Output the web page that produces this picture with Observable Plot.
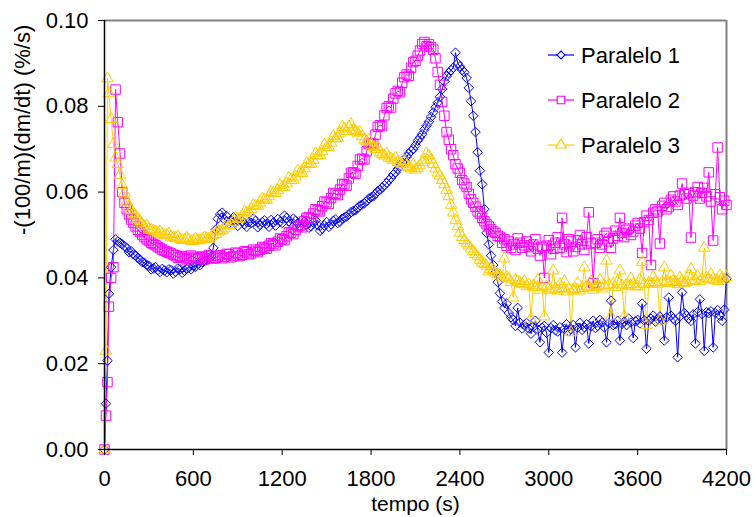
<!DOCTYPE html>
<html>
<head>
<meta charset="utf-8">
<script src="https://cdn.jsdelivr.net/npm/d3@7"></script>
<script src="https://cdn.jsdelivr.net/npm/@observablehq/plot@0.6"></script>
<style>
  html, body { margin: 0; padding: 0; background: #ffffff; }
  #chart { width: 754px; height: 517px; }
</style>
</head>
<body>
<div id="chart"></div>
<script>
const seriesNames = ["Paralelo 1", "Paralelo 2", "Paralelo 3"];
const seriesColors = ["#0000ff", "#ff00ff", "#ffcc00"];
const xTicks = [0, 600, 1200, 1800, 2400, 3000, 3600, 4200];
const yTicks = [0, 0.02, 0.04, 0.06, 0.08, 0.10];
const xLabel = "tempo (s)";
const yLabel = "-(100/m)(dm/dt) (%/s)";

const tempo = [0,10,20,30,45,60,75,90,105,120,
135,150,165,180,195,210,225,240,255,270,285,300,315,330,345,360,375,390,405,420,
435,450,465,480,495,510,525,540,555,570,585,600,615,630,645,660,675,690,705,720,
735,750,765,780,795,810,825,840,855,870,885,900,915,930,945,960,975,990,1005,1020,
1035,1050,1065,1080,1095,1110,1125,1140,1155,1170,1185,1200,1215,1230,1245,1260,1275,1290,1305,1320,
1335,1350,1365,1380,1395,1410,1425,1440,1455,1470,1485,1500,1515,1530,1545,1560,1575,1590,1605,1620,
1635,1650,1665,1680,1695,1710,1725,1740,1755,1770,1785,1800,1815,1830,1845,1860,1875,1890,1905,1920,
1935,1950,1965,1980,1995,2010,2025,2040,2055,2070,2085,2100,2115,2130,2145,2160,2175,2190,2205,2220,
2235,2250,2265,2280,2295,2310,2325,2340,2355,2370,2385,2400,2415,2430,2445,2460,2475,2490,2505,2520,
2535,2550,2565,2580,2595,2610,2625,2640,2655,2670,2685,2700,2715,2730,2745,2760,2775,2790,2805,2820,
2835,2850,2865,2880,2895,2910,2925,2940,2955,2970,2985,3000,3015,3030,3045,3060,3075,3090,3105,3120,
3135,3150,3165,3180,3195,3210,3225,3240,3255,3270,3285,3300,3315,3330,3345,3360,3375,3390,3405,3420,
3435,3450,3465,3480,3495,3510,3525,3540,3555,3570,3585,3600,3615,3630,3645,3660,3675,3690,3705,3720,
3735,3750,3765,3780,3795,3810,3825,3840,3855,3870,3885,3900,3915,3930,3945,3960,3975,3990,4005,4020,
4035,4050,4065,4080,4095,4110,4125,4140,4155,4170,4185,4200];

const paralelo1 = [0,0.0107,0.0207,0.0363,0.0425,0.0465,0.0490,0.0485,0.0482,0.0478,
0.0474,0.0470,0.0460,0.0462,0.0455,0.0452,0.0446,0.0443,0.0437,0.0435,0.0430,0.0428,0.0420,0.0422,0.0425,0.0418,0.0414,0.0421,0.0417,0.0413,
0.0420,0.0418,0.0410,0.0414,0.0422,0.0420,0.0412,0.0417,0.0421,0.0424,0.0420,0.0428,0.0426,0.0432,0.0430,0.0437,0.0440,0.0442,0.0446,0.0450,
0.0470,0.0512,0.0538,0.0548,0.0552,0.0536,0.0544,0.0527,0.0534,0.0541,0.0530,0.0521,0.0538,0.0532,0.0525,0.0519,0.0530,0.0528,0.0538,0.0533,
0.0518,0.0524,0.0530,0.0534,0.0526,0.0519,0.0535,0.0529,0.0522,0.0537,0.0531,0.0528,0.0545,0.0540,0.0532,0.0526,0.0538,0.0533,0.0527,0.0521,
0.0536,0.0531,0.0524,0.0517,0.0520,0.0529,0.0534,0.0523,0.0510,0.0515,0.0522,0.0530,0.0519,0.0525,0.0533,0.0536,0.0528,0.0531,0.0538,0.0541,
0.0543,0.0548,0.0553,0.0556,0.0558,0.0563,0.0569,0.0571,0.0574,0.0579,0.0585,0.0588,0.0590,0.0596,0.0602,0.0605,0.0611,0.0616,0.0621,0.0628,
0.0633,0.0641,0.0646,0.0654,0.0662,0.0668,0.0674,0.0682,0.0690,0.0696,0.0700,0.0709,0.0720,0.0727,0.0735,0.0746,0.0755,0.0764,0.0775,0.0786,
0.0798,0.0808,0.0822,0.0840,0.0858,0.0870,0.0878,0.0884,0.0890,0.0925,0.0900,0.0893,0.0885,0.0879,0.0866,0.0843,0.0812,0.0778,0.0740,0.0693,
0.0650,0.0618,0.0560,0.0505,0.0478,0.0452,0.0430,0.0413,0.0390,0.0364,0.0345,0.0330,0.0340,0.0318,0.0308,0.0302,0.0288,0.0330,0.0296,0.0282,
0.0290,0.0295,0.0282,0.0270,0.0286,0.0300,0.0280,0.0250,0.0284,0.0288,0.0272,0.0226,0.0283,0.0290,0.0278,0.0275,0.0285,0.0226,0.0281,0.0292,
0.0276,0.0280,0.0290,0.0238,0.0284,0.0295,0.0279,0.0285,0.0292,0.0247,0.0287,0.0300,0.0283,0.0288,0.0302,0.0296,0.0285,0.0250,0.0294,0.0347,
0.0290,0.0292,0.0300,0.0254,0.0293,0.0298,0.0290,0.0305,0.0296,0.0260,0.0299,0.0302,0.0294,0.0340,0.0301,0.0235,0.0300,0.0305,0.0312,0.0298,
0.0304,0.0310,0.0302,0.0254,0.0308,0.0354,0.0312,0.0305,0.0300,0.0215,0.0310,0.0366,0.0318,0.0312,0.0305,0.0300,0.0315,0.0247,0.0320,0.0350,
0.0316,0.0230,0.0320,0.0318,0.0322,0.0238,0.0318,0.0325,0.0312,0.0300,0.0326,0.0398];

const paralelo2 = [0,0.0079,0.0157,0.0333,0.0400,0.0425,0.0839,0.0763,0.0690,0.0600,
0.0575,0.0560,0.0548,0.0536,0.0528,0.0520,0.0512,0.0507,0.0500,0.0495,0.0490,0.0487,0.0482,0.0479,0.0476,0.0472,0.0469,0.0466,0.0463,0.0461,
0.0459,0.0457,0.0454,0.0452,0.0447,0.0449,0.0451,0.0447,0.0443,0.0445,0.0452,0.0449,0.0446,0.0444,0.0448,0.0450,0.0443,0.0446,0.0453,0.0451,
0.0445,0.0447,0.0450,0.0453,0.0446,0.0449,0.0456,0.0455,0.0448,0.0451,0.0459,0.0457,0.0451,0.0454,0.0462,0.0460,0.0455,0.0457,0.0466,0.0463,
0.0460,0.0466,0.0472,0.0470,0.0468,0.0475,0.0481,0.0479,0.0476,0.0484,0.0492,0.0490,0.0488,0.0497,0.0506,0.0505,0.0502,0.0512,0.0520,0.0522,
0.0518,0.0532,0.0540,0.0541,0.0538,0.0550,0.0560,0.0558,0.0555,0.0567,0.0578,0.0576,0.0573,0.0586,0.0598,0.0596,0.0593,0.0606,0.0619,0.0618,
0.0615,0.0632,0.0645,0.0646,0.0643,0.0661,0.0676,0.0678,0.0676,0.0695,0.0712,0.0714,0.0712,0.0734,0.0752,0.0756,0.0754,0.0779,0.0796,0.0800,
0.0797,0.0818,0.0830,0.0836,0.0833,0.0855,0.0868,0.0874,0.0871,0.0890,0.0903,0.0906,0.0918,0.0930,0.0945,0.0950,0.0940,0.0945,0.0938,0.0932,
0.0912,0.0880,0.0850,0.0810,0.0778,0.0740,0.0722,0.0700,0.0686,0.0665,0.0655,0.0645,0.0628,0.0620,0.0612,0.0596,0.0583,0.0575,0.0566,0.0555,
0.0550,0.0540,0.0532,0.0525,0.0520,0.0514,0.0508,0.0505,0.0498,0.0496,0.0482,0.0490,0.0475,0.0485,0.0470,0.0478,0.0465,0.0492,0.0482,0.0470,
0.0476,0.0485,0.0472,0.0462,0.0478,0.0490,0.0468,0.0452,0.0472,0.0400,0.0475,0.0488,0.0455,0.0468,0.0482,0.0495,0.0470,0.0540,0.0478,0.0460,
0.0490,0.0485,0.0462,0.0472,0.0488,0.0500,0.0478,0.0465,0.0495,0.0553,0.0480,0.0388,0.0482,0.0490,0.0470,0.0478,0.0498,0.0505,0.0485,0.0470,
0.0492,0.0510,0.0498,0.0540,0.0505,0.0495,0.0512,0.0515,0.0500,0.0508,0.0522,0.0528,0.0515,0.0458,0.0530,0.0545,0.0535,0.0430,0.0552,0.0560,
0.0555,0.0480,0.0568,0.0575,0.0560,0.0565,0.0582,0.0590,0.0578,0.0570,0.0592,0.0620,0.0595,0.0585,0.0598,0.0494,0.0592,0.0600,0.0612,0.0585,
0.0598,0.0610,0.0590,0.0646,0.0578,0.0487,0.0595,0.0704,0.0588,0.0560,0.0580,0.0570];

const paralelo3 = [0,0.0230,0.0865,0.0830,0.0770,0.0712,0.0680,0.0665,0.0640,0.0615,
0.0598,0.0578,0.0566,0.0558,0.0550,0.0545,0.0538,0.0532,0.0526,0.0520,0.0522,0.0514,0.0512,0.0510,0.0508,0.0505,0.0508,0.0502,0.0499,0.0500,
0.0503,0.0496,0.0494,0.0493,0.0497,0.0490,0.0488,0.0488,0.0493,0.0489,0.0485,0.0486,0.0491,0.0488,0.0487,0.0490,0.0494,0.0492,0.0491,0.0496,
0.0500,0.0502,0.0510,0.0508,0.0511,0.0515,0.0524,0.0522,0.0524,0.0530,0.0540,0.0537,0.0538,0.0545,0.0555,0.0552,0.0553,0.0560,0.0570,0.0568,
0.0568,0.0575,0.0585,0.0582,0.0582,0.0590,0.0600,0.0598,0.0597,0.0604,0.0616,0.0612,0.0612,0.0620,0.0633,0.0628,0.0628,0.0636,0.0650,0.0645,
0.0644,0.0655,0.0668,0.0665,0.0666,0.0675,0.0690,0.0685,0.0686,0.0695,0.0710,0.0705,0.0705,0.0715,0.0730,0.0725,0.0726,0.0738,0.0752,0.0748,
0.0742,0.0752,0.0758,0.0745,0.0742,0.0738,0.0740,0.0730,0.0722,0.0718,0.0722,0.0710,0.0704,0.0700,0.0705,0.0692,0.0688,0.0685,0.0690,0.0680,
0.0678,0.0675,0.0680,0.0670,0.0668,0.0665,0.0672,0.0660,0.0658,0.0655,0.0664,0.0652,0.0656,0.0662,0.0670,0.0675,0.0690,0.0685,0.0676,0.0665,
0.0655,0.0645,0.0638,0.0628,0.0618,0.0605,0.0590,0.0570,0.0552,0.0535,0.0520,0.0505,0.0495,0.0488,0.0480,0.0475,0.0468,0.0462,0.0455,0.0450,
0.0442,0.0435,0.0432,0.0428,0.0415,0.0420,0.0418,0.0412,0.0408,0.0405,0.0400,0.0445,0.0402,0.0398,0.0390,0.0354,0.0395,0.0392,0.0388,0.0385,
0.0392,0.0380,0.0384,0.0305,0.0382,0.0378,0.0395,0.0372,0.0378,0.0310,0.0380,0.0375,0.0372,0.0417,0.0374,0.0370,0.0385,0.0376,0.0392,0.0368,
0.0375,0.0273,0.0372,0.0374,0.0388,0.0370,0.0376,0.0424,0.0380,0.0378,0.0392,0.0372,0.0378,0.0380,0.0395,0.0375,0.0382,0.0440,0.0384,0.0310,
0.0386,0.0378,0.0392,0.0417,0.0382,0.0310,0.0385,0.0382,0.0398,0.0385,0.0380,0.0380,0.0395,0.0437,0.0386,0.0290,0.0388,0.0386,0.0402,0.0390,
0.0386,0.0300,0.0390,0.0424,0.0392,0.0388,0.0405,0.0392,0.0390,0.0385,0.0400,0.0394,0.0388,0.0390,0.0405,0.0420,0.0392,0.0395,0.0404,0.0392,
0.0398,0.0470,0.0400,0.0396,0.0408,0.0398,0.0394,0.0392,0.0405,0.0400,0.0396,0.0402];

const seriesValues = [paralelo1, paralelo2, paralelo3];
const seriesSymbols = ["diamond2", "square2", "triangle2"];
const seriesRadius = [4.3, 6, 5.5];

const rows = [];
seriesNames.forEach((name, i) => {
  tempo.forEach((t, j) => rows.push({tempo: t, valor: seriesValues[i][j], serie: name}));
});

const dotMarks = seriesNames.map((name, i) =>
  Plot.dot(rows.filter(d => d.serie === name), {
    x: "tempo", y: "valor", symbol: () => seriesSymbols[i], r: seriesRadius[i],
    stroke: seriesColors[i], fill: "none", strokeWidth: 1
  })
);

const chart = Plot.plot({
  width: 754,
  height: 517,
  marginLeft: 104,
  marginRight: 28,
  marginTop: 20,
  marginBottom: 68,
  style: {fontFamily: "'Liberation Sans', Arial, sans-serif", fontSize: "22px", background: "#ffffff", color: "#000"},
  x: {domain: [0, 4200]},
  y: {domain: [0, 0.10]},
  color: {domain: seriesNames, range: seriesColors},
  symbol: {domain: seriesSymbols, range: seriesSymbols},
  marks: [
    Plot.ruleY([0.10], {stroke: "#808080", strokeWidth: 2}),
    Plot.ruleX([4200], {stroke: "#808080", strokeWidth: 2}),
    Plot.line(rows, {x: "tempo", y: "valor", z: "serie", stroke: "serie", strokeWidth: 1}),
    ...dotMarks,
    Plot.ruleX([0], {stroke: "#000", strokeWidth: 1.5}),
    Plot.ruleY([0], {stroke: "#000", strokeWidth: 1.5}),
    Plot.axisY({ticks: yTicks, tickFormat: d3.format(".2f"), tickSize: 6, tickPadding: 10, fontSize: 22, label: null}),
    Plot.axisX({ticks: xTicks, tickFormat: d3.format("d"), tickSize: 6, tickPadding: 15, fontSize: 22, label: null}),
    Plot.text([xLabel], {frameAnchor: "bottom", dy: 55, fontSize: 21, lineAnchor: "middle"}),
    Plot.text([yLabel], {frameAnchor: "left", dx: -82, rotate: -90, fontSize: 22, lineAnchor: "middle"})
  ]
});

document.getElementById("chart").appendChild(chart);

// Legend inside the plot area (top right)
const svg = d3.select(chart);
const legend = svg.append("g").attr("class", "legend").attr("text-anchor", "start");
const symbolTypes = {diamond2: d3.symbolDiamond2, square2: d3.symbolSquare2, triangle2: d3.symbolTriangle2};
const legendRadius = [3.6, 4.8, 5];
seriesNames.forEach((name, i) => {
  const g = legend.append("g").attr("transform", `translate(548, ${55 + i * 45})`);
  g.append("line").attr("x1", 0).attr("x2", 26).attr("y1", 0).attr("y2", 0)
    .attr("stroke", seriesColors[i]).attr("stroke-width", 1.2);
  g.append("path").attr("transform", "translate(13,0)")
    .attr("d", d3.symbol(symbolTypes[seriesSymbols[i]], Math.PI * legendRadius[i] * legendRadius[i])())
    .attr("fill", "#fff").attr("stroke", seriesColors[i]).attr("stroke-width", 1.2);
  g.append("text").attr("x", 33).attr("y", 0).attr("dy", "0.35em")
    .attr("text-anchor", "start").attr("font-size", 22).attr("fill", "#000").text(name);
});
</script>
</body>
</html>
